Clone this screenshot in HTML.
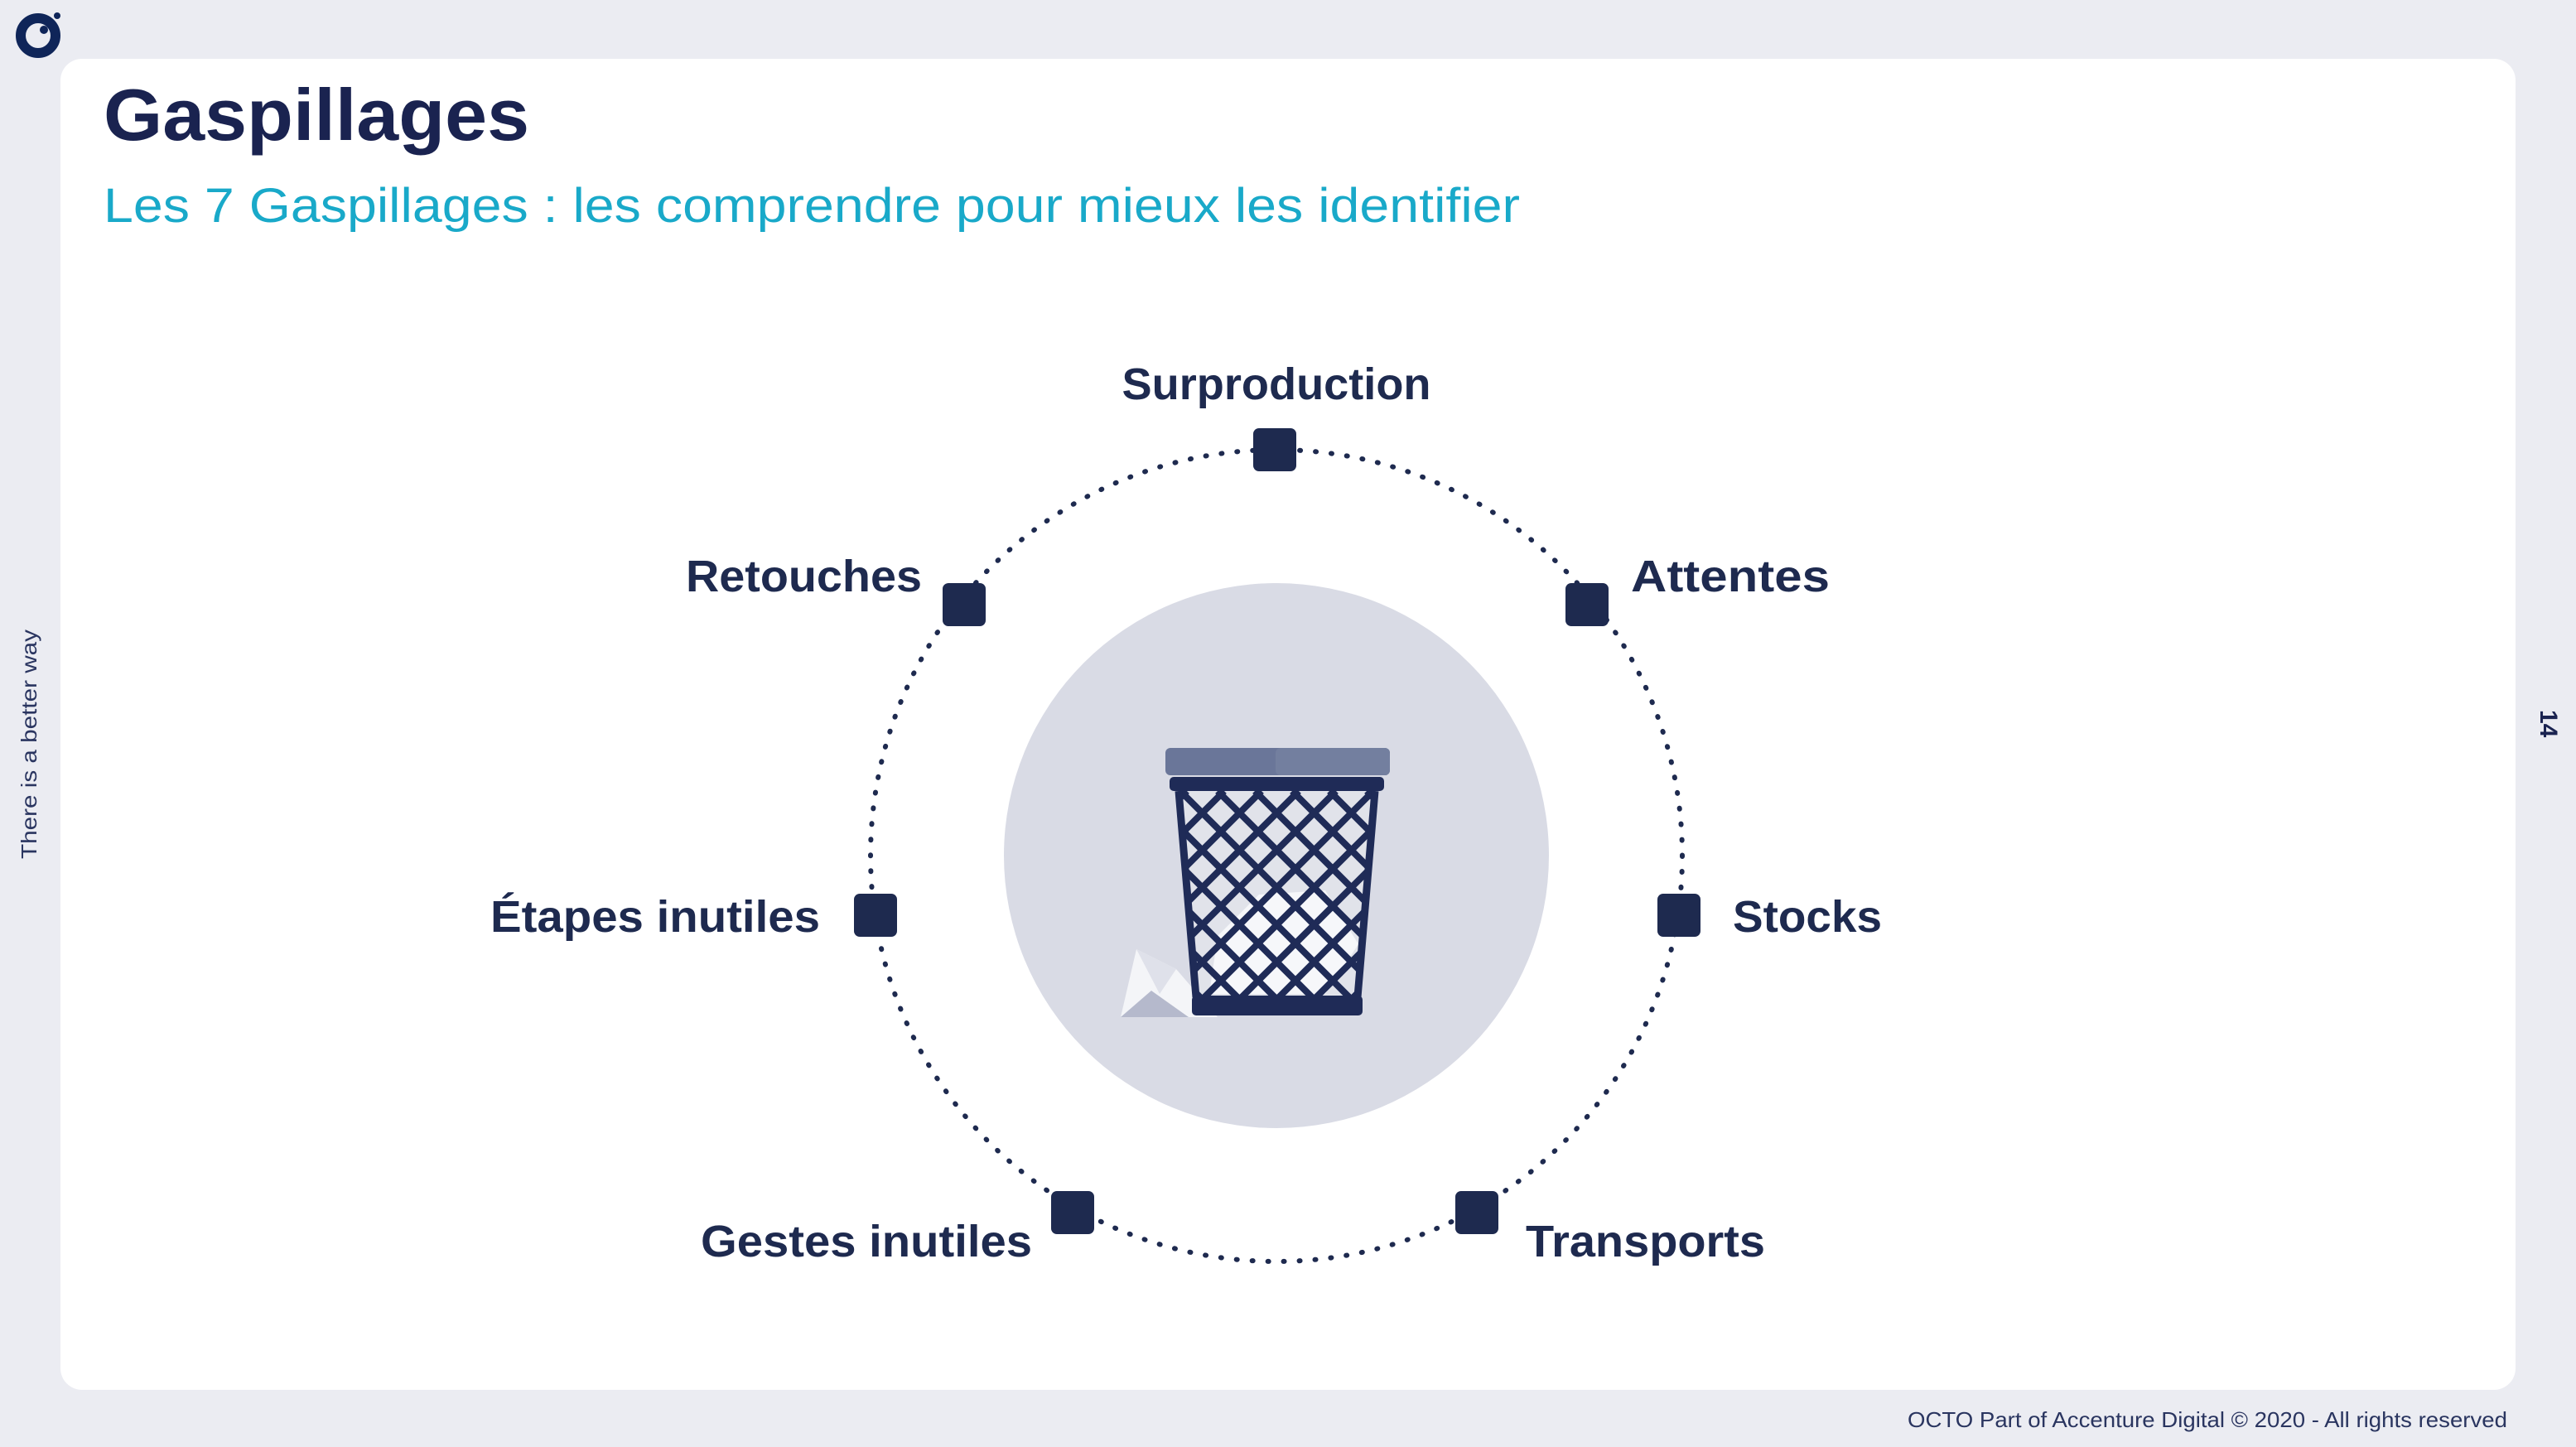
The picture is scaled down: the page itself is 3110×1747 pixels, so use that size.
<!DOCTYPE html>
<html><head><meta charset="utf-8"><style>
html,body{margin:0;padding:0;background:#ebecf2;}
svg{display:block;}
</style></head><body>
<svg width="3110" height="1747" viewBox="0 0 3110 1747" xmlns="http://www.w3.org/2000/svg">
<rect width="3110" height="1747" fill="#ebecf2"/>
<rect x="73" y="71" width="2964" height="1607" rx="26" fill="#ffffff"/>
<circle cx="46" cy="43" r="21" fill="none" stroke="#0f2559" stroke-width="12"/>
<circle cx="53" cy="36" r="5" fill="#0f2559"/>
<circle cx="69" cy="19" r="4" fill="#0f2559"/>
<text x="125" y="169" font-family="Liberation Sans, sans-serif" font-weight="bold" font-size="88" fill="#1a2350" textLength="514" lengthAdjust="spacingAndGlyphs">Gaspillages</text>
<text x="125" y="268" font-family="Liberation Sans, sans-serif" font-size="58" fill="#19a9c9" textLength="1710" lengthAdjust="spacingAndGlyphs">Les 7 Gaspillages : les comprendre pour mieux les identifier</text>
<text transform="translate(44,1037) rotate(-90)" font-family="Liberation Sans, sans-serif" font-size="26" fill="#2a3560" textLength="277" lengthAdjust="spacingAndGlyphs">There is a better way</text>
<text transform="translate(3067,857) rotate(90)" font-family="Liberation Sans, sans-serif" font-weight="bold" font-size="30" fill="#1a2350">14</text>
<text x="3027" y="1723" text-anchor="end" font-family="Liberation Sans, sans-serif" font-size="26" fill="#2a3560" textLength="724" lengthAdjust="spacingAndGlyphs">OCTO Part of Accenture Digital © 2020 - All rights reserved</text>
<circle cx="1541" cy="1033" r="490" fill="none" stroke="#1e2a4f" stroke-width="6" stroke-linecap="round" stroke-dasharray="1 18"/>
<circle cx="1541" cy="1033" r="329" fill="#d9dbe5"/>
<defs>
<clipPath id="body"><polygon points="1420,955 1663,955 1642,1204 1441,1204"/></clipPath>
</defs>
<polygon points="1353,1228 1372,1146 1420,1170 1470,1228" fill="#f4f5f8"/>
<polygon points="1353,1228 1390,1196 1435,1228" fill="#b5b9cc"/>
<polygon points="1372,1146 1420,1170 1400,1200" fill="#dfe1ea"/>
<g clip-path="url(#body)" stroke="#1f2b57" stroke-width="8">
<polygon points="1420,955 1663,955 1642,1204 1441,1204" fill="#e1e3ea" stroke="none"/>
<polygon points="1470,1130 1520,1080 1600,1075 1640,1140 1600,1200 1460,1200" fill="#f6f7fa" stroke="none"/>
<line x1="1200" y1="955" x2="1500" y2="1255"/><line x1="1245" y1="955" x2="1545" y2="1255"/><line x1="1290" y1="955" x2="1590" y2="1255"/><line x1="1335" y1="955" x2="1635" y2="1255"/><line x1="1380" y1="955" x2="1680" y2="1255"/><line x1="1425" y1="955" x2="1725" y2="1255"/><line x1="1470" y1="955" x2="1770" y2="1255"/><line x1="1515" y1="955" x2="1815" y2="1255"/><line x1="1560" y1="955" x2="1860" y2="1255"/><line x1="1605" y1="955" x2="1905" y2="1255"/><line x1="1650" y1="955" x2="1950" y2="1255"/>
<line x1="1883" y1="955" x2="1583" y2="1255"/><line x1="1838" y1="955" x2="1538" y2="1255"/><line x1="1793" y1="955" x2="1493" y2="1255"/><line x1="1748" y1="955" x2="1448" y2="1255"/><line x1="1703" y1="955" x2="1403" y2="1255"/><line x1="1658" y1="955" x2="1358" y2="1255"/><line x1="1613" y1="955" x2="1313" y2="1255"/><line x1="1568" y1="955" x2="1268" y2="1255"/><line x1="1523" y1="955" x2="1223" y2="1255"/><line x1="1478" y1="955" x2="1178" y2="1255"/><line x1="1433" y1="955" x2="1133" y2="1255"/>
</g>
<line x1="1423" y1="955" x2="1444" y2="1204" stroke="#1f2b57" stroke-width="9"/>
<line x1="1660" y1="955" x2="1639" y2="1204" stroke="#1f2b57" stroke-width="9"/>
<rect x="1412" y="938" width="259" height="17" rx="5" fill="#1f2b57"/>
<rect x="1407" y="903" width="271" height="33" rx="6" fill="#6a7699"/>
<rect x="1540" y="903" width="138" height="33" rx="6" fill="#737f9f"/>
<rect x="1439" y="1202" width="206" height="24" rx="5" fill="#1f2b57"/>
<g fill="#1e2a4f">
<rect x="1513" y="517" width="52" height="52" rx="7"/>
<rect x="1890" y="704" width="52" height="52" rx="7"/>
<rect x="2001" y="1079" width="52" height="52" rx="7"/>
<rect x="1757" y="1438" width="52" height="52" rx="7"/>
<rect x="1269" y="1438" width="52" height="52" rx="7"/>
<rect x="1031" y="1079" width="52" height="52" rx="7"/>
<rect x="1138" y="704" width="52" height="52" rx="7"/>
</g>
<g font-family="Liberation Sans, sans-serif" font-weight="bold" font-size="54" fill="#1e2a4f">
<text x="1541" y="482" text-anchor="middle" textLength="373" lengthAdjust="spacingAndGlyphs">Surproduction</text>
<text x="1969" y="714" textLength="240" lengthAdjust="spacingAndGlyphs">Attentes</text>
<text x="2092" y="1125" textLength="180" lengthAdjust="spacingAndGlyphs">Stocks</text>
<text x="1842" y="1517" textLength="289" lengthAdjust="spacingAndGlyphs">Transports</text>
<text x="1246" y="1517" text-anchor="end" textLength="400" lengthAdjust="spacingAndGlyphs">Gestes inutiles</text>
<text x="990" y="1125" text-anchor="end" textLength="398" lengthAdjust="spacingAndGlyphs">Étapes inutiles</text>
<text x="1113" y="714" text-anchor="end" textLength="285" lengthAdjust="spacingAndGlyphs">Retouches</text>
</g>
</svg>
</body></html>
